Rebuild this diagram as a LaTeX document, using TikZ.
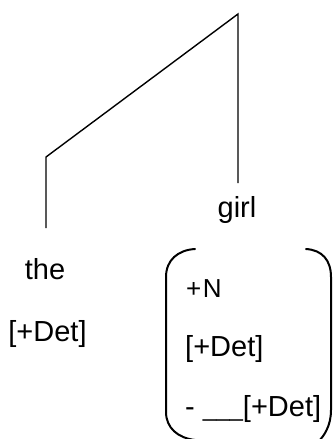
\documentclass[tikz,border=0pt]{standalone}
\usepackage{fontspec}
\setmainfont{Liberation Sans}
\begin{document}
\begin{tikzpicture}[x=1pt,y=-1pt,
  branch/.style={line width=1.4pt, line join=miter},
  paren/.style={line width=2pt, line cap=round},
  word/.style={inner sep=0pt, font=\fontsize{29}{34}\selectfont},
  feat/.style={word, anchor=base west},
  smallfeat/.style={inner sep=0pt, anchor=base west, font=\fontsize{26}{31}\selectfont}]
\useasboundingbox (0,0) rectangle (332,439);
% tree skeleton
\coordinate (top) at (238,14);
\coordinate (bend) at (46,157);
\coordinate (leftend) at (46,228);
\coordinate (rightend) at (238,183);
\draw[branch] (leftend) -- (bend) -- (top) -- (rightend);
% leaves
\node[word, anchor=base] (girl) at (237,217) {girl};
\node[word, anchor=base] (the) at (45,279) {the};
\node[word, anchor=base] (detL) at (47.5,341) {[+Det]};
% feature matrix of "girl"
\node[smallfeat] (plusN) at (186,297) {+\kern1.5pt N};
\node[feat] (detR) at (185,356) {[+Det]};
\node[feat] (frame) at (185,416) {- {\fontsize{24}{28}\selectfont\_\_\_}[+Det]};
% round brackets around the matrix
\draw[paren] (195,249) .. controls (178,250) and (166,260) .. (166,277)
  -- (166,412) .. controls (166,428) and (178,438) .. (195,440);
\draw[paren] (306,249) .. controls (322,250) and (331,260) .. (331,277)
  -- (331,410) .. controls (331,426) and (324,436) .. (318,442);
\end{tikzpicture}
\end{document}
